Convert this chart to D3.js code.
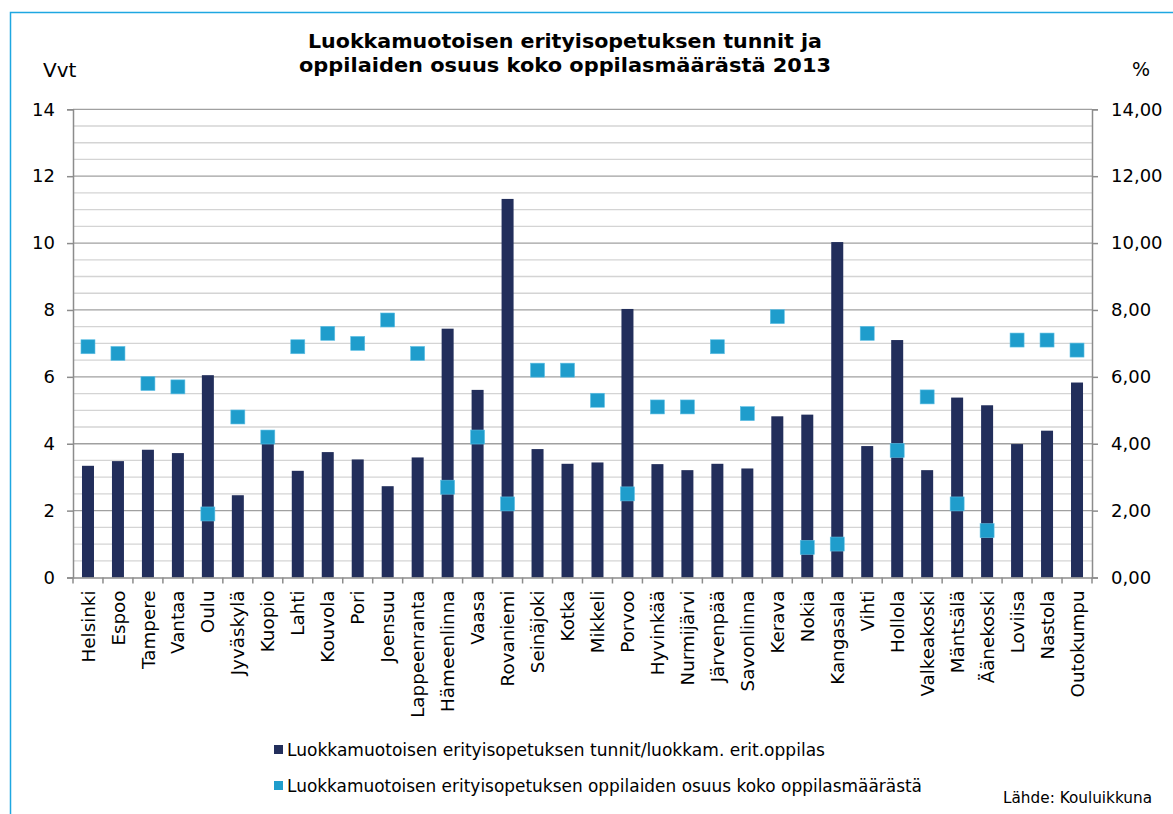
<!DOCTYPE html>
<html><head><meta charset="utf-8">
<script src="https://cdn.jsdelivr.net/npm/d3@7"></script>
<style>body{margin:0;background:#fff}svg{display:block}text{font-family:"DejaVu Sans",Verdana,sans-serif;fill:#000}</style>
</head><body><svg id="c" width="1173" height="814"></svg>
<script>
const categories = ["Helsinki","Espoo","Tampere","Vantaa","Oulu","Jyväskylä","Kuopio","Lahti","Kouvola","Pori","Joensuu","Lappeenranta","Hämeenlinna","Vaasa","Rovaniemi","Seinäjoki","Kotka","Mikkeli","Porvoo","Hyvinkää","Nurmijärvi","Järvenpää","Savonlinna","Kerava","Nokia","Kangasala","Vihti","Hollola","Valkeakoski","Mäntsälä","Äänekoski","Loviisa","Nastola","Outokumpu"];
const hours = [3.34,3.48,3.82,3.72,6.05,2.46,4.1,3.19,3.75,3.53,2.73,3.59,7.44,5.61,11.32,3.84,3.40,3.44,8.03,3.39,3.21,3.40,3.26,4.82,4.87,10.03,3.93,7.1,3.21,5.38,5.15,3.99,4.39,5.83];
const share = [6.9,6.7,5.8,5.7,1.9,4.8,4.2,6.9,7.3,7.0,7.7,6.7,2.7,4.2,2.2,6.2,6.2,5.3,2.5,5.1,5.1,6.9,4.9,7.8,0.9,1.0,7.3,3.8,5.4,2.2,1.4,7.1,7.1,6.8];
const leftTicks = [0,2,4,6,8,10,12,14];
const rightTicks = ["0,00","2,00","4,00","6,00","8,00","10,00","12,00","14,00"];
const titleLines = ["Luokkamuotoisen erityisopetuksen tunnit ja","oppilaiden osuus koko oppilasmäärästä 2013"];
const legendLabels = ["Luokkamuotoisen erityisopetuksen tunnit/luokkam. erit.oppilas","Luokkamuotoisen erityisopetuksen oppilaiden osuus koko oppilasmäärästä"];

const svg = d3.select("#c");
const barColor = "#222e5b", dotColor = "#1f9dcc";
const L = 73, R = 1092, T = 109.3, B = 577.5;

// border
svg.append("path").attr("d","M10.5,814 L10.5,12.5 L1173,12.5").attr("fill","none").attr("stroke","#1ea7e1").attr("stroke-width",1.5);

const x = d3.scaleBand().domain(categories).range([L,R]);
const y = d3.scaleLinear().domain([0,14]).range([B,T]);
const y2 = d3.scaleLinear().domain([0,14]).range([B,T]);

// grid
const minor = d3.range(0.5,14.01,0.5).filter(v=>v%2!==0);
svg.append("g").selectAll("line").data(minor).join("line")
  .attr("x1",L).attr("x2",R).attr("y1",d=>y(d)).attr("y2",d=>y(d))
  .attr("stroke","#d4d4d4").attr("stroke-width",1.3);
svg.append("g").selectAll("line").data(leftTicks.slice(1)).join("line")
  .attr("x1",L).attr("x2",R).attr("y1",d=>y(d)).attr("y2",d=>y(d))
  .attr("stroke","#a0a0a0").attr("stroke-width",1.3);

// bars
const bw = 12;
svg.append("g").selectAll("rect").data(hours).join("rect")
  .attr("x",(d,i)=>x(categories[i])+x.bandwidth()/2-bw/2)
  .attr("width",bw).attr("y",d=>y(d)).attr("height",d=>B-y(d))
  .attr("fill",barColor);

// axes
const gL = svg.append("g").attr("transform",`translate(${L},0)`)
  .call(d3.axisLeft(y).tickValues(leftTicks).tickSize(6).tickPadding(12).tickFormat(d3.format("d")));
const gR = svg.append("g").attr("transform",`translate(${R},0)`)
  .call(d3.axisRight(y2).tickValues(leftTicks).tickSize(6).tickPadding(13).tickFormat((d,i)=>rightTicks[i]));
const gB = svg.append("g").attr("transform",`translate(0,${B})`)
  .call(d3.axisBottom(x).tickSize(0).tickPadding(12));
[gL,gR,gB].forEach(g=>{
  g.select(".domain").attr("stroke","#8c8c8c").attr("stroke-width",1.5);
  g.selectAll(".tick line").attr("stroke","#8c8c8c").attr("stroke-width",1.5);
  g.selectAll("text").style("font-family",'"DejaVu Sans",Verdana,sans-serif').attr("fill","#000");
});
gL.selectAll("text").style("font-size","18px");
gR.selectAll("text").style("font-size","18px").attr("text-anchor","start");
gB.selectAll(".tick text").style("font-size","18.3px")
  .attr("transform","rotate(-90)").attr("text-anchor","end")
  .attr("x",-13).attr("y",0).attr("dy","0.36em");
// category separator ticks
const bounds = categories.map(c=>x(c)).concat([R]);
svg.append("g").selectAll("line").data(bounds).join("line")
  .attr("x1",d=>d).attr("x2",d=>d).attr("y1",B).attr("y2",B+6)
  .attr("stroke","#8c8c8c").attr("stroke-width",1.5);

// markers
const ms = 14;
svg.append("g").selectAll("rect").data(share).join("rect")
  .attr("x",(d,i)=>x(categories[i])+x.bandwidth()/2-ms/2)
  .attr("y",d=>y2(d)-ms/2).attr("width",ms).attr("height",ms)
  .attr("fill",dotColor).attr("stroke","#5fc0e6").attr("stroke-width",0.6);

// title
svg.append("g").selectAll("text").data(titleLines).join("text")
  .attr("x",565).attr("y",(d,i)=>48+i*24).attr("text-anchor","middle")
  .attr("textLength",(d,i)=>i===0?514:532).attr("lengthAdjust","spacingAndGlyphs")
  .style("font-size","20px").style("font-weight","bold").text(d=>d);

svg.append("text").attr("x",43).attr("y",77).style("font-size","20px").text("Vvt");
svg.append("text").attr("x",1132).attr("y",76).style("font-size","19px").text("%");

// legend
const lg = svg.append("g");
[barColor,dotColor].forEach((c,i)=>{
  lg.append("rect").attr("x",274).attr("y",745+i*36).attr("width",9).attr("height",9).attr("fill",c);
  lg.append("text").attr("x",287).attr("y",756+i*36).style("font-size","17px")
    .attr("textLength", i===0?538:635).attr("lengthAdjust","spacingAndGlyphs").text(legendLabels[i]);
});
svg.append("text").attr("x",1003).attr("y",803).style("font-size","15px")
  .attr("textLength",149).attr("lengthAdjust","spacingAndGlyphs").text("Lähde: Kouluikkuna");
</script></body></html>
